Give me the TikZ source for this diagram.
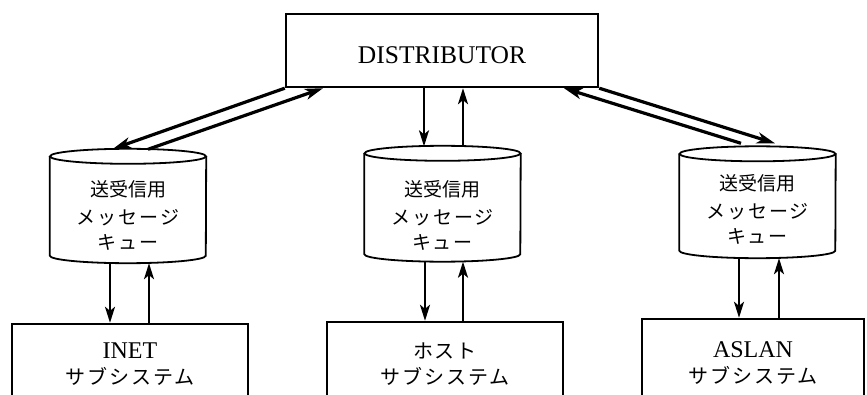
\documentclass[tikz,border=0pt]{standalone}
\usepackage{fontspec}
\setmainfont{Liberation Serif}
\newfontfamily\jpfont{Noto Sans CJK JP}
\newfontfamily\jpkfont[LetterSpace=10]{Noto Sans CJK JP}
\usetikzlibrary{arrows.meta}
\newcommand\drawcylinder[1]{%
  \draw[cyl] ([yshift=-7.5pt]#1.north west) -- ([yshift=7.5pt]#1.south west)
    arc[start angle=180,end angle=360,x radius=78pt,y radius=7.5pt]
    -- ([yshift=-7.5pt]#1.north east);
  \draw[cyl] ([yshift=-7.5pt]#1.north) ellipse[x radius=78pt,y radius=7.5pt];}
\begin{document}
\begin{tikzpicture}[x=1pt,y=1pt,
  boxnode/.style={draw, line width=2.4pt, inner sep=0pt, align=center,
    font=\fontsize{24}{26}\selectfont},
  cylnode/.style={inner sep=0pt, minimum width=156pt},
  cyl/.style={line width=1.8pt},
  cyltext/.style={inner sep=0pt, align=center, font=\jpfont\fontsize{19}{25}\selectfont},
  arr/.style={line width=2.2pt, -{Stealth[length=16pt,width=10pt,inset=4pt]}},
  diag/.style={line width=3.2pt, -{Stealth[length=18pt,width=11pt,inset=5pt]}}]
\useasboundingbox (0,0) rectangle (867,394);
\clip (0,0) rectangle (867,394);

% distributor
\node[boxnode, minimum width=312pt, minimum height=73pt, font=\fontsize{25.5}{27}\selectfont,
  text height=27pt, text depth=0pt] (d) at (442,343.5) {DISTRIBUTOR};

% queues
\node[cylnode, minimum height=114pt] (q1) at (128,188) {};
\node[cylnode, minimum height=115.5pt] (q2) at (442.5,190.25) {};
\node[cylnode, minimum height=111.5pt] (q3) at (757.5,191.75) {};
\drawcylinder{q1}
\drawcylinder{q2}
\drawcylinder{q3}
\node[cyltext] (q1t) at ([yshift=-9.5pt]q1.center) {送受信用\\[3pt]{\jpkfont メッセージ}\\{\jpkfont キュー}};
\node[cyltext] (q2t) at ([yshift=-11.5pt]q2.center) {送受信用\\[3pt]{\jpkfont メッセージ}\\{\jpkfont キュー}};
\node[cyltext] (q3t) at ([yshift=-7.5pt]q3.center) {送受信用\\[3pt]{\jpkfont メッセージ}\\{\jpkfont キュー}};

% subsystems
\node[boxnode, minimum width=236pt, minimum height=80pt] (b1) at (130,30)
  {INET\\{\jpkfont\fontsize{20}{26}\selectfont サブシステム}};
\node[boxnode, minimum width=236pt, minimum height=84pt] (b2) at (445,30)
  {{\jpkfont\fontsize{20}{26}\selectfont ホスト}\\{\jpkfont\fontsize{20}{26}\selectfont サブシステム}};
\node[boxnode, minimum width=222pt, minimum height=88pt] (b3) at (753,31)
  {ASLAN\\{\jpkfont\fontsize{20}{26}\selectfont サブシステム}};

% distributor <-> queues
\draw[diag] (d.south west) -- ([xshift=-15pt]q1.north);
\draw[diag] ([xshift=20pt,yshift=-0.5pt]q1.north) -- ([xshift=-119pt]d.south);
\draw[arr] ([xshift=-18pt]d.south) -- ([xshift=-18.5pt,yshift=-0.5pt]q2.north);
\draw[arr] ([xshift=20.5pt,yshift=-0.5pt]q2.north) -- ([xshift=21pt]d.south);
\draw[diag] ([xshift=-16.5pt,yshift=3pt]q3.north) -- ([xshift=122pt]d.south);
\draw[diag] (d.south east) -- ([xshift=17.5pt,yshift=3pt]q3.north);

% queues <-> subsystems
\draw[arr] ([xshift=-18pt]q1.south) -- ([xshift=-20pt]b1.north);
\draw[arr] ([xshift=19pt]b1.north) -- ([xshift=21pt]q1.south);
\draw[arr] ([xshift=-17.5pt]q2.south) -- ([xshift=-20pt]b2.north);
\draw[arr] ([xshift=18pt]b2.north) -- ([xshift=20.5pt]q2.south);
\draw[arr] ([xshift=-18.5pt]q3.south) -- ([xshift=-14pt]b3.north);
\draw[arr] ([xshift=26pt]b3.north) -- ([xshift=21.5pt]q3.south);
\end{tikzpicture}
\end{document}
